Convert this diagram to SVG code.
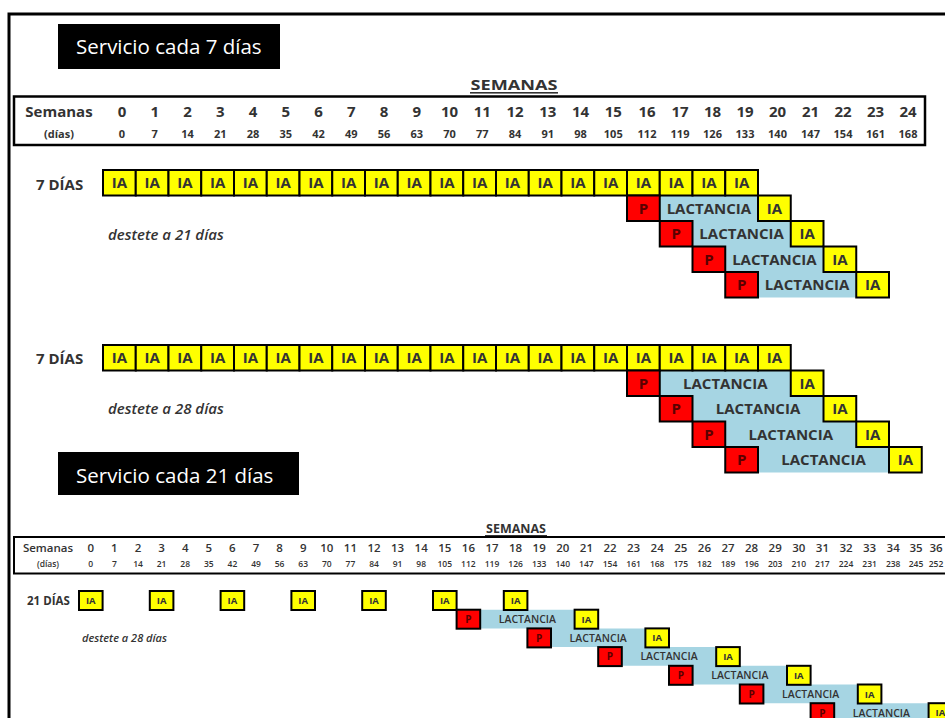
<svg xmlns="http://www.w3.org/2000/svg" width="945" height="718" viewBox="0 0 945 718">
<style>
text{font-family:'Open Sans','Liberation Sans',sans-serif;fill:#333}
.m{text-anchor:middle}
.ttl{fill:#fff;font-size:20.5px}
.ia{fill:#ffff00;stroke:#000;stroke-width:2}
.p{fill:#ff0000;stroke:#000;stroke-width:2}
.lac{fill:#a6d5e3}
.hd{font-size:15px;font-weight:700}
.dd{font-size:11px;font-weight:700}
.hd2{font-size:11.5px;font-weight:600}
.dd2{font-size:8.5px;font-weight:600}
.cA{font-size:15px;font-weight:700;text-anchor:middle}
.pA{font-size:15px;font-weight:700;text-anchor:middle;fill:#5a0000}
.cC{font-size:9.5px;font-weight:700;text-anchor:middle}
.lC{font-size:10.5px;font-weight:600;text-anchor:middle}
.pC{font-size:10px;font-weight:700;text-anchor:middle;fill:#5a0000}
.lbl{font-size:15px;font-weight:700}
.dst{font-size:15px;font-weight:600;font-style:italic}
.frame{fill:none;stroke:#000;stroke-width:3}
.hbox{fill:#fff;stroke:#000;stroke-width:2.5}
</style>
<rect width="945" height="718" fill="#fff"/>
<g id="frame"><path class="frame" d="M9 718 V14 H945"/></g>

<g id="title1">
<rect x="58" y="24" width="222" height="45" fill="#000"/>
<text class="ttl" x="76" y="54">Servicio cada 7 días</text>
</g>

<g id="header1">
<text class="hd m" x="514" y="90" font-size="17" textLength="87" lengthAdjust="spacingAndGlyphs">SEMANAS</text>
<rect x="470" y="92" width="88" height="1.6" fill="#333"/>
<rect class="hbox" x="14" y="96.5" width="911" height="48.5"/>
<text class="hd m" x="59" y="117">Semanas</text>
<text class="dd m" x="59" y="138">(días)</text>
<text class="hd m" x="122" y="117">0</text><text class="dd m" x="122" y="138">0</text>
<text class="hd m" x="154.75" y="117">1</text><text class="dd m" x="154.75" y="138">7</text>
<text class="hd m" x="187.5" y="117">2</text><text class="dd m" x="187.5" y="138">14</text>
<text class="hd m" x="220.25" y="117">3</text><text class="dd m" x="220.25" y="138">21</text>
<text class="hd m" x="253" y="117">4</text><text class="dd m" x="253" y="138">28</text>
<text class="hd m" x="285.75" y="117">5</text><text class="dd m" x="285.75" y="138">35</text>
<text class="hd m" x="318.5" y="117">6</text><text class="dd m" x="318.5" y="138">42</text>
<text class="hd m" x="351.25" y="117">7</text><text class="dd m" x="351.25" y="138">49</text>
<text class="hd m" x="384" y="117">8</text><text class="dd m" x="384" y="138">56</text>
<text class="hd m" x="416.75" y="117">9</text><text class="dd m" x="416.75" y="138">63</text>
<text class="hd m" x="449.5" y="117">10</text><text class="dd m" x="449.5" y="138">70</text>
<text class="hd m" x="482.25" y="117">11</text><text class="dd m" x="482.25" y="138">77</text>
<text class="hd m" x="515" y="117">12</text><text class="dd m" x="515" y="138">84</text>
<text class="hd m" x="547.75" y="117">13</text><text class="dd m" x="547.75" y="138">91</text>
<text class="hd m" x="580.5" y="117">14</text><text class="dd m" x="580.5" y="138">98</text>
<text class="hd m" x="613.25" y="117">15</text><text class="dd m" x="613.25" y="138">105</text>
<text class="hd m" x="647" y="117">16</text><text class="dd m" x="647" y="138">112</text>
<text class="hd m" x="680" y="117">17</text><text class="dd m" x="680" y="138">119</text>
<text class="hd m" x="712.5" y="117">18</text><text class="dd m" x="712.5" y="138">126</text>
<text class="hd m" x="745" y="117">19</text><text class="dd m" x="745" y="138">133</text>
<text class="hd m" x="777.5" y="117">20</text><text class="dd m" x="777.5" y="138">140</text>
<text class="hd m" x="810.5" y="117">21</text><text class="dd m" x="810.5" y="138">147</text>
<text class="hd m" x="843" y="117">22</text><text class="dd m" x="843" y="138">154</text>
<text class="hd m" x="875.5" y="117">23</text><text class="dd m" x="875.5" y="138">161</text>
<text class="hd m" x="908" y="117">24</text><text class="dd m" x="908" y="138">168</text>
</g>

<g id="blockA">
<text class="lbl" x="36" y="190">7 DÍAS</text>
<text class="dst" x="108" y="240">destete a 21 días</text>
<polygon class="lac" points="659.75,195.5 758,195.5 758,221 790.75,221 790.75,246.5 823.5,246.5 823.5,272 856.25,272 856.25,297.5 758,297.5 758,272 725.25,272 725.25,246.5 692.5,246.5 692.5,221 659.75,221"/>
<g id="rowA0">
<rect class="ia" x="103" y="170" width="32.75" height="25.5"/>
<rect class="ia" x="135.75" y="170" width="32.75" height="25.5"/>
<rect class="ia" x="168.5" y="170" width="32.75" height="25.5"/>
<rect class="ia" x="201.25" y="170" width="32.75" height="25.5"/>
<rect class="ia" x="234" y="170" width="32.75" height="25.5"/>
<rect class="ia" x="266.75" y="170" width="32.75" height="25.5"/>
<rect class="ia" x="299.5" y="170" width="32.75" height="25.5"/>
<rect class="ia" x="332.25" y="170" width="32.75" height="25.5"/>
<rect class="ia" x="365" y="170" width="32.75" height="25.5"/>
<rect class="ia" x="397.75" y="170" width="32.75" height="25.5"/>
<rect class="ia" x="430.5" y="170" width="32.75" height="25.5"/>
<rect class="ia" x="463.25" y="170" width="32.75" height="25.5"/>
<rect class="ia" x="496" y="170" width="32.75" height="25.5"/>
<rect class="ia" x="528.75" y="170" width="32.75" height="25.5"/>
<rect class="ia" x="561.5" y="170" width="32.75" height="25.5"/>
<rect class="ia" x="594.25" y="170" width="32.75" height="25.5"/>
<rect class="ia" x="627" y="170" width="32.75" height="25.5"/>
<rect class="ia" x="659.75" y="170" width="32.75" height="25.5"/>
<rect class="ia" x="692.5" y="170" width="32.75" height="25.5"/>
<rect class="ia" x="725.25" y="170" width="32.75" height="25.5"/>
<text class="cA" x="119.4" y="188">IA</text>
<text class="cA" x="152.1" y="188">IA</text>
<text class="cA" x="184.9" y="188">IA</text>
<text class="cA" x="217.6" y="188">IA</text>
<text class="cA" x="250.4" y="188">IA</text>
<text class="cA" x="283.1" y="188">IA</text>
<text class="cA" x="315.9" y="188">IA</text>
<text class="cA" x="348.6" y="188">IA</text>
<text class="cA" x="381.4" y="188">IA</text>
<text class="cA" x="414.1" y="188">IA</text>
<text class="cA" x="446.9" y="188">IA</text>
<text class="cA" x="479.6" y="188">IA</text>
<text class="cA" x="512.4" y="188">IA</text>
<text class="cA" x="545.1" y="188">IA</text>
<text class="cA" x="577.9" y="188">IA</text>
<text class="cA" x="610.6" y="188">IA</text>
<text class="cA" x="643.4" y="188">IA</text>
<text class="cA" x="676.1" y="188">IA</text>
<text class="cA" x="708.9" y="188">IA</text>
<text class="cA" x="741.6" y="188">IA</text>
</g>
<g id="rowA1">
<rect class="p" x="627" y="195.5" width="32.75" height="25.5"/><text class="pA" x="643.4" y="213.6">P</text>
<text class="cA" x="708.9" y="213.6">LACTANCIA</text>
<rect class="ia" x="758" y="195.5" width="32.75" height="25.5"/><text class="cA" x="774.4" y="213.6">IA</text>
</g>
<g id="rowA2">
<rect class="p" x="659.75" y="221" width="32.75" height="25.5"/><text class="pA" x="676.1" y="239.1">P</text>
<text class="cA" x="741.6" y="239.1">LACTANCIA</text>
<rect class="ia" x="790.75" y="221" width="32.75" height="25.5"/><text class="cA" x="807.1" y="239.1">IA</text>
</g>
<g id="rowA3">
<rect class="p" x="692.5" y="246.5" width="32.75" height="25.5"/><text class="pA" x="708.9" y="264.6">P</text>
<text class="cA" x="774.4" y="264.6">LACTANCIA</text>
<rect class="ia" x="823.5" y="246.5" width="32.75" height="25.5"/><text class="cA" x="839.9" y="264.6">IA</text>
</g>
<g id="rowA4">
<rect class="p" x="725.25" y="272" width="32.75" height="25.5"/><text class="pA" x="741.6" y="290.1">P</text>
<text class="cA" x="807.1" y="290.1">LACTANCIA</text>
<rect class="ia" x="856.25" y="272" width="32.75" height="25.5"/><text class="cA" x="872.6" y="290.1">IA</text>
</g>
</g>

<g id="blockB">
<text class="lbl" x="36" y="364">7 DÍAS</text>
<text class="dst" x="108" y="414">destete a 28 días</text>
<polygon class="lac" points="659.75,370.5 790.75,370.5 790.75,396 823.5,396 823.5,421.5 856.25,421.5 856.25,447 889,447 889,472.5 758,472.5 758,447 725.25,447 725.25,421.5 692.5,421.5 692.5,396 659.75,396"/>
<g id="rowB0">
<rect class="ia" x="103" y="345" width="32.75" height="25.5"/>
<rect class="ia" x="135.75" y="345" width="32.75" height="25.5"/>
<rect class="ia" x="168.5" y="345" width="32.75" height="25.5"/>
<rect class="ia" x="201.25" y="345" width="32.75" height="25.5"/>
<rect class="ia" x="234" y="345" width="32.75" height="25.5"/>
<rect class="ia" x="266.75" y="345" width="32.75" height="25.5"/>
<rect class="ia" x="299.5" y="345" width="32.75" height="25.5"/>
<rect class="ia" x="332.25" y="345" width="32.75" height="25.5"/>
<rect class="ia" x="365" y="345" width="32.75" height="25.5"/>
<rect class="ia" x="397.75" y="345" width="32.75" height="25.5"/>
<rect class="ia" x="430.5" y="345" width="32.75" height="25.5"/>
<rect class="ia" x="463.25" y="345" width="32.75" height="25.5"/>
<rect class="ia" x="496" y="345" width="32.75" height="25.5"/>
<rect class="ia" x="528.75" y="345" width="32.75" height="25.5"/>
<rect class="ia" x="561.5" y="345" width="32.75" height="25.5"/>
<rect class="ia" x="594.25" y="345" width="32.75" height="25.5"/>
<rect class="ia" x="627" y="345" width="32.75" height="25.5"/>
<rect class="ia" x="659.75" y="345" width="32.75" height="25.5"/>
<rect class="ia" x="692.5" y="345" width="32.75" height="25.5"/>
<rect class="ia" x="725.25" y="345" width="32.75" height="25.5"/>
<rect class="ia" x="758" y="345" width="32.75" height="25.5"/>
<text class="cA" x="119.4" y="363.1">IA</text>
<text class="cA" x="152.1" y="363.1">IA</text>
<text class="cA" x="184.9" y="363.1">IA</text>
<text class="cA" x="217.6" y="363.1">IA</text>
<text class="cA" x="250.4" y="363.1">IA</text>
<text class="cA" x="283.1" y="363.1">IA</text>
<text class="cA" x="315.9" y="363.1">IA</text>
<text class="cA" x="348.6" y="363.1">IA</text>
<text class="cA" x="381.4" y="363.1">IA</text>
<text class="cA" x="414.1" y="363.1">IA</text>
<text class="cA" x="446.9" y="363.1">IA</text>
<text class="cA" x="479.6" y="363.1">IA</text>
<text class="cA" x="512.4" y="363.1">IA</text>
<text class="cA" x="545.1" y="363.1">IA</text>
<text class="cA" x="577.9" y="363.1">IA</text>
<text class="cA" x="610.6" y="363.1">IA</text>
<text class="cA" x="643.4" y="363.1">IA</text>
<text class="cA" x="676.1" y="363.1">IA</text>
<text class="cA" x="708.9" y="363.1">IA</text>
<text class="cA" x="741.6" y="363.1">IA</text>
<text class="cA" x="774.4" y="363.1">IA</text>
</g>
<g id="rowB1">
<rect class="p" x="627" y="370.5" width="32.75" height="25.5"/><text class="pA" x="643.4" y="388.6">P</text>
<text class="cA" x="725.25" y="388.6">LACTANCIA</text>
<rect class="ia" x="790.75" y="370.5" width="32.75" height="25.5"/><text class="cA" x="807.1" y="388.6">IA</text>
</g>
<g id="rowB2">
<rect class="p" x="659.75" y="396" width="32.75" height="25.5"/><text class="pA" x="676.1" y="414.1">P</text>
<text class="cA" x="758" y="414.1">LACTANCIA</text>
<rect class="ia" x="823.5" y="396" width="32.75" height="25.5"/><text class="cA" x="839.9" y="414.1">IA</text>
</g>
<g id="rowB3">
<rect class="p" x="692.5" y="421.5" width="32.75" height="25.5"/><text class="pA" x="708.9" y="439.6">P</text>
<text class="cA" x="790.75" y="439.6">LACTANCIA</text>
<rect class="ia" x="856.25" y="421.5" width="32.75" height="25.5"/><text class="cA" x="872.6" y="439.6">IA</text>
</g>
<g id="rowB4">
<rect class="p" x="725.25" y="447" width="32.75" height="25.5"/><text class="pA" x="741.6" y="465.1">P</text>
<text class="cA" x="823.5" y="465.1">LACTANCIA</text>
<rect class="ia" x="889" y="447" width="32.75" height="25.5"/><text class="cA" x="905.4" y="465.1">IA</text>
</g>
</g>

<g id="title2">
<rect x="58" y="452" width="241" height="43" fill="#000"/>
<text class="ttl" x="76" y="483">Servicio cada 21 días</text>
</g>

<g id="header2">
<text class="m" x="516" y="533" font-size="12.5" font-weight="700">SEMANAS</text>
<rect x="485" y="535" width="62" height="1.3" fill="#333"/>
<rect x="14" y="537" width="940" height="36.5" fill="#fff" stroke="#000" stroke-width="2"/>
<text class="hd2 m" x="48" y="552">Semanas</text>
<text class="dd2 m" x="48" y="567">(días)</text>
<text class="hd2 m" x="90.8" y="552">0</text><text class="dd2 m" x="90.8" y="567">0</text>
<text class="hd2 m" x="114.4" y="552">1</text><text class="dd2 m" x="114.4" y="567">7</text>
<text class="hd2 m" x="138" y="552">2</text><text class="dd2 m" x="138" y="567">14</text>
<text class="hd2 m" x="161.6" y="552">3</text><text class="dd2 m" x="161.6" y="567">21</text>
<text class="hd2 m" x="185.2" y="552">4</text><text class="dd2 m" x="185.2" y="567">28</text>
<text class="hd2 m" x="208.8" y="552">5</text><text class="dd2 m" x="208.8" y="567">35</text>
<text class="hd2 m" x="232.4" y="552">6</text><text class="dd2 m" x="232.4" y="567">42</text>
<text class="hd2 m" x="256" y="552">7</text><text class="dd2 m" x="256" y="567">49</text>
<text class="hd2 m" x="279.6" y="552">8</text><text class="dd2 m" x="279.6" y="567">56</text>
<text class="hd2 m" x="303.2" y="552">9</text><text class="dd2 m" x="303.2" y="567">63</text>
<text class="hd2 m" x="326.8" y="552">10</text><text class="dd2 m" x="326.8" y="567">70</text>
<text class="hd2 m" x="350.4" y="552">11</text><text class="dd2 m" x="350.4" y="567">77</text>
<text class="hd2 m" x="374" y="552">12</text><text class="dd2 m" x="374" y="567">84</text>
<text class="hd2 m" x="397.6" y="552">13</text><text class="dd2 m" x="397.6" y="567">91</text>
<text class="hd2 m" x="421.2" y="552">14</text><text class="dd2 m" x="421.2" y="567">98</text>
<text class="hd2 m" x="444.8" y="552">15</text><text class="dd2 m" x="444.8" y="567">105</text>
<text class="hd2 m" x="468.4" y="552">16</text><text class="dd2 m" x="468.4" y="567">112</text>
<text class="hd2 m" x="492" y="552">17</text><text class="dd2 m" x="492" y="567">119</text>
<text class="hd2 m" x="515.6" y="552">18</text><text class="dd2 m" x="515.6" y="567">126</text>
<text class="hd2 m" x="539.2" y="552">19</text><text class="dd2 m" x="539.2" y="567">133</text>
<text class="hd2 m" x="562.8" y="552">20</text><text class="dd2 m" x="562.8" y="567">140</text>
<text class="hd2 m" x="586.4" y="552">21</text><text class="dd2 m" x="586.4" y="567">147</text>
<text class="hd2 m" x="610" y="552">22</text><text class="dd2 m" x="610" y="567">154</text>
<text class="hd2 m" x="633.6" y="552">23</text><text class="dd2 m" x="633.6" y="567">161</text>
<text class="hd2 m" x="657.2" y="552">24</text><text class="dd2 m" x="657.2" y="567">168</text>
<text class="hd2 m" x="680.8" y="552">25</text><text class="dd2 m" x="680.8" y="567">175</text>
<text class="hd2 m" x="704.4" y="552">26</text><text class="dd2 m" x="704.4" y="567">182</text>
<text class="hd2 m" x="728" y="552">27</text><text class="dd2 m" x="728" y="567">189</text>
<text class="hd2 m" x="751.6" y="552">28</text><text class="dd2 m" x="751.6" y="567">196</text>
<text class="hd2 m" x="775.2" y="552">29</text><text class="dd2 m" x="775.2" y="567">203</text>
<text class="hd2 m" x="798.8" y="552">30</text><text class="dd2 m" x="798.8" y="567">210</text>
<text class="hd2 m" x="822.4" y="552">31</text><text class="dd2 m" x="822.4" y="567">217</text>
<text class="hd2 m" x="846" y="552">32</text><text class="dd2 m" x="846" y="567">224</text>
<text class="hd2 m" x="869.6" y="552">33</text><text class="dd2 m" x="869.6" y="567">231</text>
<text class="hd2 m" x="893.2" y="552">34</text><text class="dd2 m" x="893.2" y="567">238</text>
<text class="hd2 m" x="916" y="552">35</text><text class="dd2 m" x="916" y="567">245</text>
<text class="hd2 m" x="936" y="552">36</text><text class="dd2 m" x="936" y="567">252</text>
</g>

<g id="blockC">
<text x="27" y="605" font-size="11.5" font-weight="700">21 DÍAS</text>
<text x="82" y="642" font-size="11" font-weight="600" font-style="italic">destete a 28 días</text>
<polygon class="lac" points="480.2,609.7 574.6,609.7 574.6,628.4 645.4,628.4 645.4,647.1 716.2,647.1 716.2,665.8 787,665.8 787,684.5 857.8,684.5 857.8,703.2 928.6,703.2 928.6,722 834.2,722 834.2,703.2 763.4,703.2 763.4,684.5 692.6,684.5 692.6,665.8 621.8,665.8 621.8,647.1 551,647.1 551,628.4 480.2,628.4"/>
<g id="rowC0">
<rect class="ia" x="79" y="591" width="23.6" height="19"/><text class="cC" x="90.8" y="604">IA</text>
<rect class="ia" x="149.8" y="591" width="23.6" height="19"/><text class="cC" x="161.6" y="604">IA</text>
<rect class="ia" x="220.6" y="591" width="23.6" height="19"/><text class="cC" x="232.4" y="604">IA</text>
<rect class="ia" x="291.4" y="591" width="23.6" height="19"/><text class="cC" x="303.2" y="604">IA</text>
<rect class="ia" x="362.2" y="591" width="23.6" height="19"/><text class="cC" x="374" y="604">IA</text>
<rect class="ia" x="433" y="591" width="23.6" height="19"/><text class="cC" x="444.8" y="604">IA</text>
<rect class="ia" x="503.8" y="591" width="23.6" height="19"/><text class="cC" x="515.6" y="604">IA</text>
</g>
<g id="rowC1">
<rect class="p" x="456.6" y="609.7" width="23.6" height="19"/><text class="pC" x="468.4" y="623">P</text>
<text class="lC" x="527.4" y="623">LACTANCIA</text>
<rect class="ia" x="574.6" y="609.7" width="23.6" height="19"/><text class="cC" x="586.4" y="622.7">IA</text>
</g>
<g id="rowC2">
<rect class="p" x="527.4" y="628.4" width="23.6" height="19"/><text class="pC" x="539.2" y="641.7">P</text>
<text class="lC" x="598.2" y="641.7">LACTANCIA</text>
<rect class="ia" x="645.4" y="628.4" width="23.6" height="19"/><text class="cC" x="657.2" y="641.4">IA</text>
</g>
<g id="rowC3">
<rect class="p" x="598.2" y="647.1" width="23.6" height="19"/><text class="pC" x="610" y="660.4">P</text>
<text class="lC" x="669" y="660.4">LACTANCIA</text>
<rect class="ia" x="716.2" y="647.1" width="23.6" height="19"/><text class="cC" x="728" y="660.1">IA</text>
</g>
<g id="rowC4">
<rect class="p" x="669" y="665.8" width="23.6" height="19"/><text class="pC" x="680.8" y="679.1">P</text>
<text class="lC" x="739.8" y="679.1">LACTANCIA</text>
<rect class="ia" x="787" y="665.8" width="23.6" height="19"/><text class="cC" x="798.8" y="678.8">IA</text>
</g>
<g id="rowC5">
<rect class="p" x="739.8" y="684.5" width="23.6" height="19"/><text class="pC" x="751.6" y="697.8">P</text>
<text class="lC" x="810.6" y="697.8">LACTANCIA</text>
<rect class="ia" x="857.8" y="684.5" width="23.6" height="19"/><text class="cC" x="869.6" y="697.5">IA</text>
</g>
<g id="rowC6">
<rect class="p" x="810.6" y="703.2" width="23.6" height="19"/><text class="pC" x="822.4" y="716.5">P</text>
<text class="lC" x="881.4" y="716.5">LACTANCIA</text>
<rect class="ia" x="928.6" y="703.2" width="23.6" height="19"/><text class="cC" x="940.4" y="716.2">IA</text>
</g>
</g>
</svg>
